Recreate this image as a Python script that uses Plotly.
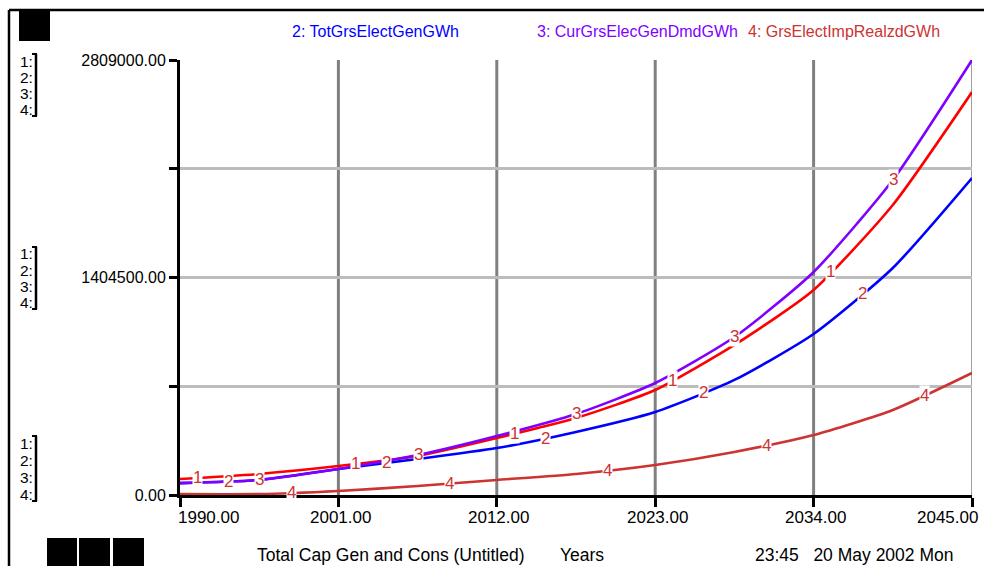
import numpy as np
import plotly.graph_objects as go

# ---------------- data ----------------
years = [1990, 1995.5, 2001, 2006.5, 2012, 2017.5, 2023, 2028.5, 2034, 2039.5, 2045]

s1_GrsElecCons = [103000, 136000, 187000, 252000, 368000, 497000, 678000, 969000, 1324000, 1873000, 2602000]
s2_TotGrsElectGenGWh = [77000, 97000, 168000, 232000, 303000, 407000, 536000, 743000, 1040000, 1466000, 2047000]
s3_CurGrsElecGenDmdGWh = [77000, 97000, 168000, 258000, 381000, 523000, 723000, 1020000, 1440000, 2034000, 2809000]
s4_GrsElectImpRealzdGWh = [6000, 6000, 26000, 58000, 97000, 136000, 194000, 278000, 387000, 549000, 788000]

series_names = ["1", "TotGrsElectGenGWh", "CurGrsElecGenDmdGWh", "GrsElectImpRealzdGWh"]
series_values = [s1_GrsElecCons, s2_TotGrsElectGenGWh, s3_CurGrsElecGenDmdGWh, s4_GrsElectImpRealzdGWh]
series_colors = ["#ff0000", "#0000ff", "#8000ff", "#cc3333"]

x_ticks = [1990, 2001, 2012, 2023, 2034, 2045]
x_tick_labels = ["1990.00", "2001.00", "2012.00", "2023.00", "2034.00", "2045.00"]
y_max = 2809000
y_ticks = [0, y_max / 4, y_max / 2, 3 * y_max / 4, y_max]
y_tick_labels = ["0.00", "", "1404500.00", "", "2809000.00"]

footer_title = "Total Cap Gen and Cons (Untitled)"
footer_units = "Years"
footer_time = "23:45   20 May 2002 Mon"

# ---------------- layout constants ----------------
W, H = 984, 566
L, R, T, B = 180, 12, 60, 71
PW, PH = W - L - R, H - T - B
FONT = "Liberation Sans, Arial, sans-serif"
LABEL_RED = "#cc3333"


def px(xp):
    return (xp - L) / PW


def py(yp):
    return (T + PH - yp) / PH


fig = go.Figure()

for name, vals, col in zip(series_names, series_values, series_colors):
    fig.add_trace(go.Scatter(x=years, y=vals, mode="lines", name=name,
                             line=dict(color=col, width=2.6, shape="spline", smoothing=0.6),
                             showlegend=False, hoverinfo="skip"))

annotations = []

# numbered labels on the lines
for k, vals in enumerate(series_values):
    for j in range(5):
        yr = 1991.2 + 2.17 * k + 11 * j
        val = float(np.interp(yr, years, vals))
        annotations.append(dict(x=yr, y=val, xref="x", yref="y", text=str(k + 1),
                                showarrow=False, bgcolor="white", borderpad=0,
                                font=dict(family=FONT, size=17, color=LABEL_RED)))

# x tick labels
for i, (xv, lab) in enumerate(zip(x_ticks, x_tick_labels)):
    if i == 0:
        anchor, shift = "left", -4
    elif i == len(x_ticks) - 1:
        anchor, shift = "right", 8
    else:
        anchor, shift = "center", 2
    annotations.append(dict(x=xv, y=0, xref="x", yref="paper", text=lab, showarrow=False,
                            xanchor=anchor, yanchor="middle", xshift=shift, yshift=-22,
                            font=dict(family=FONT, size=17, color="black")))

# top legend
legend_x = [290, 535, 746]
for k, xp in zip([1, 2, 3], legend_x):
    annotations.append(dict(x=px(xp), y=py(31), xref="paper", yref="paper",
                            text=f"{k + 1}: {series_names[k]}", showarrow=False,
                            xanchor="left", yanchor="middle",
                            font=dict(family=FONT, size=16, color=series_colors[k] if k != 3 else LABEL_RED)))

# footer
for txt, xp in [(footer_title, 255), (footer_units, 558), (footer_time, 753)]:
    annotations.append(dict(x=px(xp), y=py(555), xref="paper", yref="paper", text=txt,
                            showarrow=False, xanchor="left", yanchor="middle",
                            font=dict(family=FONT, size=17.5, color="black")))

shapes = []
# vertical grid lines (interior ticks) and thin right edge line
for xv in x_ticks[1:-1]:
    shapes.append(dict(type="line", xref="x", yref="paper", x0=xv, x1=xv, y0=0, y1=1,
                       layer="below", line=dict(color="#808080", width=3)))
shapes.append(dict(type="line", xref="x", yref="paper", x0=x_ticks[-1], x1=x_ticks[-1], y0=0, y1=1,
                   layer="below", line=dict(color="#808080", width=1.5)))

# scale groups on the left
groups = [[61, 77, 93, 109], [254, 270, 286, 302], [443, 460, 477, 494]]
for g in groups:
    for n, yp in enumerate(g):
        annotations.append(dict(x=px(35), y=py(yp), xref="paper", yref="paper", text=f"{n + 1}:",
                                showarrow=False, xanchor="right", yanchor="middle",
                                font=dict(family=FONT, size=15.5, color="black")))
    top, bot = g[0] - 7, g[-1] + 7
    shapes.append(dict(type="line", xref="paper", yref="paper", x0=px(36), x1=px(36),
                       y0=py(top), y1=py(bot), line=dict(color="black", width=2.5)))
    for yy in (top, bot):
        shapes.append(dict(type="line", xref="paper", yref="paper", x0=px(32), x1=px(37),
                           y0=py(yy), y1=py(yy), line=dict(color="black", width=2)))

# outer frame
shapes.append(dict(type="line", xref="paper", yref="paper", x0=px(9), x1=px(984), y0=py(10), y1=py(10),
                   line=dict(color="black", width=2.5)))
shapes.append(dict(type="line", xref="paper", yref="paper", x0=px(9), x1=px(9), y0=py(10), y1=py(566),
                   line=dict(color="black", width=2.5)))
# black squares
for (x0, y0, x1, y1) in [(19, 11, 50, 41), (47, 538, 77, 566), (79, 538, 110, 566), (113, 538, 144, 566)]:
    shapes.append(dict(type="rect", xref="paper", yref="paper", x0=px(x0), x1=px(x1), y0=py(y0), y1=py(y1),
                       fillcolor="black", line=dict(width=0)))

fig.update_layout(
    width=W, height=H,
    margin=dict(l=L, r=R, t=T, b=B),
    paper_bgcolor="white", plot_bgcolor="white",
    font=dict(family=FONT, size=15, color="black"),
    annotations=annotations, shapes=shapes,
    showlegend=False,
    xaxis=dict(range=[1990, 2045], tickvals=x_ticks, showticklabels=False,
               showgrid=False,
               showline=True, linecolor="black", linewidth=3,
               ticks="outside", ticklen=9, tickwidth=3, tickcolor="black", zeroline=False,
               fixedrange=True),
    yaxis=dict(range=[0, y_max], tickvals=y_ticks, ticktext=y_tick_labels,
               showgrid=True, gridcolor="#bcbcbc", gridwidth=3,
               showline=True, linecolor="black", linewidth=3,
               ticks="outside", ticklen=8, tickwidth=3, tickcolor="black", zeroline=False,
               tickfont=dict(family=FONT, size=16, color="black"), fixedrange=True),
)

fig.write_html("out.html", config={"displayModeBar": False},
               post_script="document.body.style.margin='0px';document.body.style.overflow='hidden';")
